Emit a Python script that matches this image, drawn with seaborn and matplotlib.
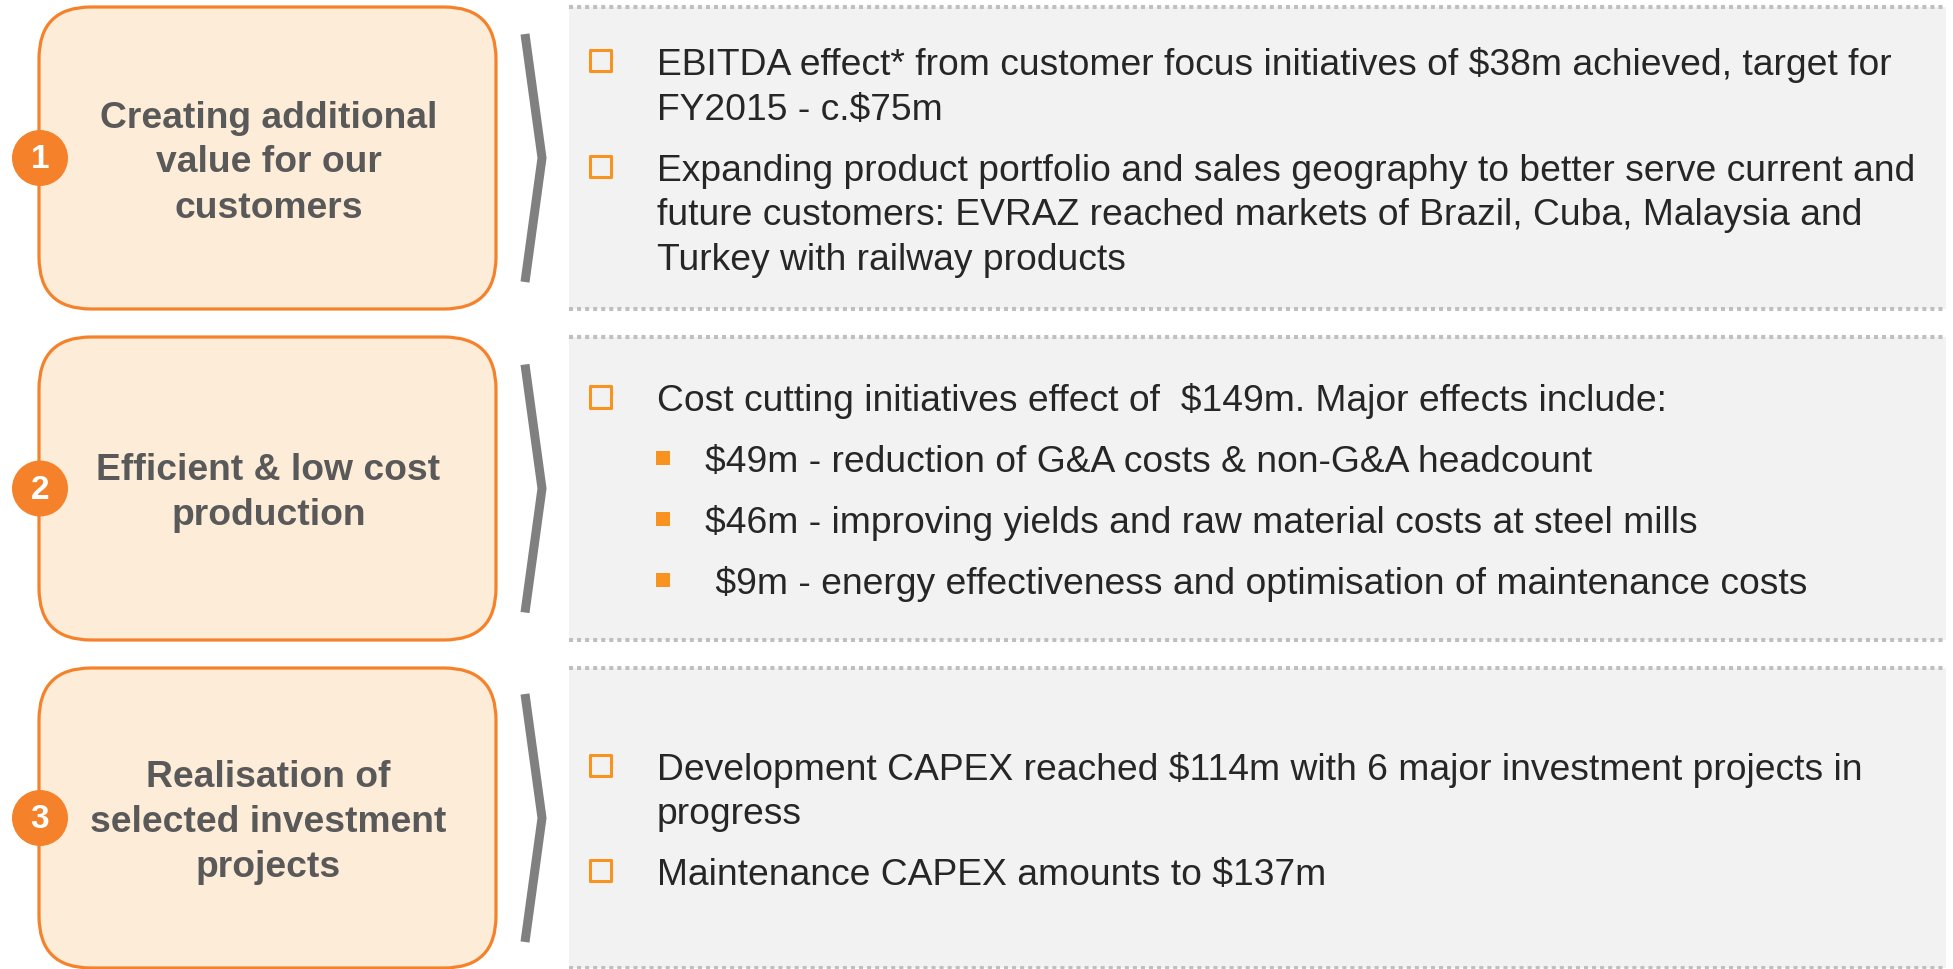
import matplotlib
matplotlib.use("Agg")
import matplotlib.pyplot as plt
from matplotlib.patches import FancyBboxPatch, Circle, Rectangle
import seaborn as sns
import pandas as pd

# ---------------- data (text content) ----------------
numbers = ["1", "2", "3"]
titles = [
    ["Creating additional", "value for our", "customers"],
    ["Efficient & low cost", "production"],
    ["Realisation of", "selected investment", "projects"],
]
# each bullet: (level, [wrapped lines])
bullets_1 = [
    (0, ["EBITDA effect* from customer focus initiatives of $38m achieved, target for",
         "FY2015 - c.$75m"]),
    (0, ["Expanding product portfolio and sales geography to better serve current and",
         "future customers: EVRAZ reached markets of Brazil, Cuba, Malaysia and",
         "Turkey with railway products"]),
]
bullets_2 = [
    (0, ["Cost cutting initiatives effect of  $149m. Major effects include:"]),
    (1, ["$49m - reduction of G&A costs & non-G&A headcount"]),
    (1, ["$46m - improving yields and raw material costs at steel mills"]),
    (1, [" $9m - energy effectiveness and optimisation of maintenance costs"]),
]
bullets_3 = [
    (0, ["Development CAPEX reached $114m with 6 major investment projects in",
         "progress"]),
    (0, ["Maintenance CAPEX amounts to $137m"]),
]
panels = [bullets_1, bullets_2, bullets_3]

# ---------------- style ----------------
sns.set_theme(style="white")
plt.rcParams["font.family"] = ["Liberation Sans", "DejaVu Sans"]

W, H = 1953, 970
ORANGE = "#F5822B"
BULLET = "#F7931E"
PEACH = "#FDEDD8"
PANEL = "#F2F2F2"
DOT = "#BFBFBF"
TITLE_C = "#595959"
TEXT_C = "#262626"
CHEV = "#808080"

FS = 26.8          # body font size (pt) at dpi 100
TFS = 26.8         # title font size
CAP = 27           # cap height in px
LINE = 44.5        # line step inside bullet
BSTEP = 61         # step between bullets

fig = plt.figure(figsize=(W / 100, H / 100), dpi=100)
ax = fig.add_axes([0, 0, 1, 1])
ax.set_xlim(0, W)
ax.set_ylim(H, 0)
ax.axis("off")

row_top = [8, 338, 669]
row_bot = [310, 641, 969]

box_x0, box_x1 = 39, 496
panel_x0, panel_x1 = 569, 1946

bullet_rows = []
for i in range(3):
    t, b = row_top[i], row_bot[i]
    cy = (t + b) / 2
    # rounded box
    ax.add_patch(FancyBboxPatch((box_x0, t), box_x1 - box_x0, b - t,
                                boxstyle="round,pad=0,rounding_size=52",
                                fc=PEACH, ec=ORANGE, lw=2.3, zorder=2))
    # number circle
    ax.add_patch(Circle((40, cy), 28, fc=ORANGE, ec="none", zorder=3))
    ax.text(40, cy + 1, numbers[i], color="white", fontsize=24, fontweight="bold",
            ha="center", va="center", zorder=4)
    # title lines
    n = len(titles[i])
    first = cy + CAP / 2 - (n - 1) * 45 / 2
    for k, line in enumerate(titles[i]):
        ax.text((box_x0 + box_x1) / 2 + 1, first + k * 45, line, color=TITLE_C,
                fontsize=TFS, fontweight="bold", ha="center", va="baseline", zorder=4)
    # chevron
    ax.plot([525, 542, 525], [cy - 124, cy, cy + 124], color=CHEV, lw=6.5,
            solid_joinstyle="miter", solid_capstyle="butt", zorder=2)
    # panel
    ax.add_patch(Rectangle((panel_x0, t), panel_x1 - panel_x0, b - t,
                           fc=PANEL, ec="none", zorder=1))
    for yy in (t, b):
        ax.plot([panel_x0, panel_x1], [yy, yy], color=DOT, lw=2.9,
                dashes=(1, 1), dash_capstyle="butt", zorder=2)
    # bullet text
    blist = panels[i]
    total = sum((len(lines) - 1) * LINE for _, lines in blist) + (len(blist) - 1) * BSTEP
    y = cy - (total - CAP) / 2
    for lvl, lines in blist:
        bx = 600.5 if lvl == 0 else 663
        tx = 657 if lvl == 0 else 705
        bullet_rows.append({"x": bx, "y": y - 13.5, "level": "main" if lvl == 0 else "sub"})
        for k, line in enumerate(lines):
            ax.text(tx, y + k * LINE, line, color=TEXT_C, fontsize=FS,
                    ha="left", va="baseline", zorder=4)
        y += (len(lines) - 1) * LINE + BSTEP

bdf = pd.DataFrame(bullet_rows)
sns.scatterplot(data=bdf[bdf.level == "main"], x="x", y="y", marker="s", s=230,
                facecolor="none", edgecolor=BULLET, linewidth=2.2, ax=ax, zorder=5,
                legend=False)
sns.scatterplot(data=bdf[bdf.level == "sub"], x="x", y="y", marker="s", s=102,
                color=BULLET, edgecolor="none", linewidth=0, ax=ax, zorder=5,
                legend=False)
ax.set_xlim(0, W)
ax.set_ylim(H, 0)
ax.axis("off")

fig.savefig("out.png", dpi=100, facecolor="white")
